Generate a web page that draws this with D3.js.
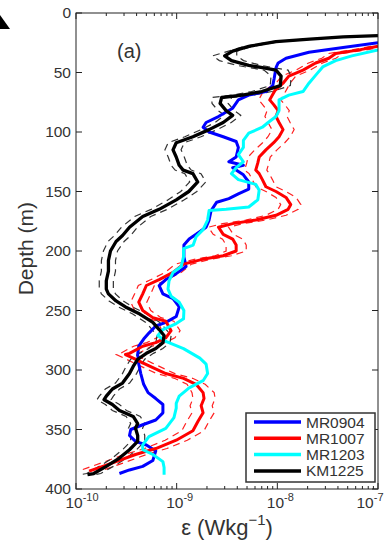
<!DOCTYPE html>
<html>
<head>
<meta charset="utf-8">
<script src="https://cdn.jsdelivr.net/npm/d3@7"></script>
<style>
  body { margin: 0; background: #fff; }
  svg { display: block; font-family: "Liberation Sans", Arial, sans-serif; }
</style>
</head>
<body>
<div id="chart"></div>
<script>
// profiles: [depth (m), epsilon (W/kg)]
const mr0904 = [[25,1e-7],[29,4.5e-8],[33,2.06e-8],[38,1.22e-8],[42,1.02e-8],[46,9.7e-9],[55,9.3e-9],[61,9.0e-9],[66,7.7e-9],[69,5.2e-9],[73,4.1e-9],[80,3.6e-9],[87,2.6e-9],[92,1.96e-9],[96,1.83e-9],[100,2.1e-9],[104,2.9e-9],[108,3.9e-9],[113,4.1e-9],[121,3.9e-9],[125,3.3e-9],[128,4.6e-9],[130,3.6e-9],[136,4.6e-9],[142,5.2e-9],[148,5.2e-9],[152,4.1e-9],[156,3.3e-9],[159,2.5e-9],[166,2.2e-9],[174,2.1e-9],[180,1.96e-9],[186,1.56e-9],[190,1.33e-9],[195,1.18e-9],[205,1.18e-9],[213,1.24e-9],[219,9.9e-10],[224,7.8e-10],[229,6.7e-10],[236,7.3e-10],[240,9.2e-10],[247,1.06e-9],[255,9.9e-10],[260,7.8e-10],[263,6.2e-10],[269,5.3e-10],[274,4.7e-10],[280,4.2e-10],[287,4.1e-10],[295,4.2e-10],[303,4.4e-10],[312,4.7e-10],[319,5.2e-10],[324,6.2e-10],[329,7.3e-10],[336,7.3e-10],[342,6.2e-10],[346,4.6e-10],[350,3.5e-10],[355,3.4e-10],[360,3.9e-10],[363,5.0e-10],[368,6.2e-10],[376,5.8e-10],[381,4.6e-10],[384,3.4e-10],[387,2.7e-10]];

const mr1007 = [[28,1e-7],[31,6.5e-8],[34,3.8e-8],[38,3.25e-8],[42,2.4e-8],[48,1.8e-8],[53,1.3e-8],[59,1.14e-8],[65,9.5e-9],[73,8.4e-9],[77,9.2e-9],[82,1.02e-8],[87,9.7e-9],[92,1.04e-8],[98,1.14e-8],[104,1.04e-8],[109,9.2e-9],[115,7.7e-9],[121,6.6e-9],[126,6.4e-9],[132,6.1e-9],[135,6.6e-9],[140,7.1e-9],[146,7.7e-9],[150,9.7e-9],[155,1.22e-8],[161,1.36e-8],[165,1.28e-8],[170,9.7e-9],[174,6.1e-9],[177,3.6e-9],[180,2.6e-9],[186,2.9e-9],[190,3.6e-9],[195,3.9e-9],[200,3.9e-9],[204,2.9e-9],[207,1.8e-9],[211,1.17e-9],[218,9.2e-10],[224,6.7e-10],[229,5.0e-10],[236,4.6e-10],[243,4.2e-10],[250,4.6e-10],[256,5.8e-10],[259,7.8e-10],[267,8.8e-10],[273,7.8e-10],[277,6.2e-10],[280,4.6e-10],[286,3.4e-10],[287,3.1e-10],[290,3.7e-10],[294,4.6e-10],[298,5.8e-10],[303,7.8e-10],[307,1.17e-9],[312,1.56e-9],[319,1.83e-9],[324,1.87e-9],[330,1.75e-9],[336,1.83e-9],[343,1.63e-9],[351,1.45e-9],[359,9.9e-10],[366,6.2e-10],[371,3.9e-10],[377,2.5e-10],[382,1.7e-10],[385,1.35e-10]];

const mr1203 = [[31,1e-7],[36,5.5e-8],[40,3.8e-8],[45,2.85e-8],[52,2.42e-8],[59,2.06e-8],[66,1.8e-8],[69,1.3e-8],[73,1.04e-8],[82,1.04e-8],[87,9.7e-9],[92,8.1e-9],[96,7.1e-9],[101,5.2e-9],[107,4.6e-9],[113,4.6e-9],[119,4.1e-9],[125,4.6e-9],[130,3.9e-9],[135,3.5e-9],[140,4.1e-9],[144,6.1e-9],[149,6.6e-9],[157,6.4e-9],[163,5.2e-9],[165,3.1e-9],[166,2.1e-9],[174,2.03e-9],[182,1.83e-9],[188,1.56e-9],[195,1.46e-9],[198,1.17e-9],[205,1.17e-9],[213,1.11e-9],[218,9.2e-10],[225,8.4e-10],[232,8.2e-10],[238,8.8e-10],[243,1.06e-9],[250,1.18e-9],[257,1.17e-9],[261,9.9e-10],[266,7.3e-10],[271,6.5e-10],[276,7.8e-10],[282,1.17e-9],[290,1.7e-9],[295,1.96e-9],[303,2.03e-9],[309,1.83e-9],[315,1.33e-9],[322,1.06e-9],[328,9.9e-10],[332,9.9e-10],[340,9.4e-10],[349,7.8e-10],[356,5.3e-10],[363,4.6e-10],[367,4.6e-10],[371,5.8e-10],[377,7.3e-10],[382,7.5e-10],[388,7.5e-10]];

const km1225 = [[19,1e-7],[20,4.5e-8],[22,2.1e-8],[24,9.7e-9],[28,5.2e-9],[32,3.6e-9],[36,3.0e-9],[40,3.5e-9],[44,5.2e-9],[46,7.1e-9],[48,9.7e-9],[53,1.09e-8],[61,1.07e-8],[66,7.0e-9],[69,4.5e-9],[71,2.8e-9],[76,2.7e-9],[82,3.1e-9],[86,3.6e-9],[92,2.9e-9],[98,2.1e-9],[104,1.45e-9],[109,9.9e-10],[115,9.2e-10],[121,9.9e-10],[128,1.06e-9],[132,1.16e-9],[135,1.45e-9],[142,1.62e-9],[150,1.32e-9],[157,9.9e-10],[165,6.7e-10],[171,4.6e-10],[180,3.4e-10],[187,2.9e-10],[192,2.5e-10],[200,2.2e-10],[208,2.1e-10],[217,2.1e-10],[225,2.0e-10],[232,2.0e-10],[236,2.1e-10],[242,2.5e-10],[247,3.1e-10],[253,4.3e-10],[260,5.8e-10],[266,6.7e-10],[271,7.5e-10],[277,7.3e-10],[282,6.2e-10],[286,5.0e-10],[291,4.1e-10],[297,3.7e-10],[303,3.4e-10],[311,2.9e-10],[316,2.3e-10],[322,2.0e-10],[325,1.9e-10],[329,2.3e-10],[334,2.7e-10],[339,3.7e-10],[345,4.1e-10],[349,3.9e-10],[355,4.1e-10],[360,4.1e-10],[367,3.4e-10],[374,2.7e-10],[381,2.0e-10],[387,1.5e-10],[388,1.3e-10]];

// half width of the dashed confidence band, in decades, one per point
const mr1007Band = [0.07,0.07,0.07,0.07,0.07,0.07,0.07,0.07,
  0.11,0.11,0.11,0.11,0.11,0.11,0.11,0.11,0.11,0.11,0.11,0.11,0.11,
  0.10,0.10,0.10,0.10,0.10,0.10,0.10,0.10,0.10,0.10,0.10,0.10,0.10,0.10,0.10,
  0.08,0.08,0.08,0.08,0.08,0.08,0.08,0.08,0.08,0.08,0.08,
  0.09,0.09,0.09,0.09,0.09,0.09,0.09,0.09,0.09,0.09,0.09,0.09,
  0.11,0.11,0.11,0.11,0.11,0.11,0.11,0.11,0.11,0.11,0.11,0.11];
const km1225Band = [0.04,0.04,0.04,0.04,0.04,0.04,
  0.12,0.12,0.12,0.12,0.12,
  0.10,0.10,0.10,0.10,0.10,
  0.08,0.08,0.08,0.08,0.08,0.08,
  0.08,0.08,0.08,0.08,0.08,0.08,0.08,0.08,0.08,0.08,0.08,0.08,0.08,0.08,
  0.07,0.07,0.07,0.07,0.07,0.07,0.07,0.07,0.07,0.07,0.07,0.07,0.07,0.07,0.07,0.07,0.07,
  0.07,0.07,0.07,0.07,0.07,0.07,0.07,0.07,0.07,0.07,0.07,0.07,0.07,0.07,0.07,0.07,0.07];

const seriesNames = ["MR0904", "MR1007", "MR1203", "KM1225"];
const seriesColors = ["#0000ff", "#ff0000", "#00ffff", "#000000"];
const depthTicks = [0, 50, 100, 150, 200, 250, 300, 350, 400];
const epsTicks = [1e-10, 1e-9, 1e-8, 1e-7];
const epsTickExp = ["-10", "-9", "-8", "-7"];

const W = 384, H = 541;
const box = { left: 76, right: 378, top: 13, bottom: 489 };

const svg = d3.select("#chart").append("svg")
    .attr("width", W)
    .attr("height", H);

const x = d3.scaleLog().domain([1e-10, 1e-7]).range([box.left, box.right]);
const y = d3.scaleLinear().domain([0, 400]).range([box.top, box.bottom]);

svg.append("defs").append("clipPath").attr("id", "plot-clip")
    .append("rect")
    .attr("x", box.left).attr("y", box.top)
    .attr("width", box.right - box.left).attr("height", box.bottom - box.top);

// stray arrow corner in the top left
svg.append("polygon")
    .attr("points", "0,15 10,29 0,29")
    .attr("fill", "#000");

const plot = svg.append("g").attr("clip-path", "url(#plot-clip)");

const line = d3.line()
    .x(d => x(d[1]))
    .y(d => y(d[0]));

// dashed bands
const drawBand = (data, band, color) => {
    [-1, 1].forEach(sign => {
        const shifted = data.map((d, i) => [d[0], d[1] * Math.pow(10, sign * band[i])]);
        plot.append("path")
            .attr("d", line(shifted))
            .attr("fill", "none")
            .attr("stroke", color)
            .attr("stroke-width", 1.2)
            .attr("stroke-dasharray", "7,5");
    });
};
drawBand(mr1007, mr1007Band, "#ff2020");
drawBand(km1225, km1225Band, "#333");

[mr0904, mr1007, mr1203, km1225].forEach((data, i) => {
    plot.append("path")
        .attr("d", line(data))
        .attr("fill", "none")
        .attr("stroke", seriesColors[i])
        .attr("stroke-width", i === 3 ? 3.3 : 3)
        .attr("stroke-linejoin", "round");
});

// frame
svg.append("rect")
    .attr("x", box.left).attr("y", box.top)
    .attr("width", box.right - box.left).attr("height", box.bottom - box.top)
    .attr("fill", "none")
    .attr("stroke", "#222")
    .attr("stroke-width", 1);

// log ticks top + bottom
const minor = [];
for (let e = -10; e < -7; e++) {
    for (let m = 2; m <= 9; m++) minor.push(m * Math.pow(10, e));
}
const tickG = svg.append("g").attr("stroke", "#222").attr("stroke-width", 1);
minor.forEach(v => {
    tickG.append("line").attr("x1", x(v)).attr("x2", x(v)).attr("y1", box.bottom).attr("y2", box.bottom - 3);
    tickG.append("line").attr("x1", x(v)).attr("x2", x(v)).attr("y1", box.top).attr("y2", box.top + 3);
});
epsTicks.forEach(v => {
    tickG.append("line").attr("x1", x(v)).attr("x2", x(v)).attr("y1", box.bottom).attr("y2", box.bottom - 6);
    tickG.append("line").attr("x1", x(v)).attr("x2", x(v)).attr("y1", box.top).attr("y2", box.top + 6);
});
depthTicks.forEach(v => {
    tickG.append("line").attr("x1", box.left).attr("x2", box.left + 6).attr("y1", y(v)).attr("y2", y(v));
    tickG.append("line").attr("x1", box.right).attr("x2", box.right - 6).attr("y1", y(v)).attr("y2", y(v));
});

// tick labels
svg.append("g").selectAll("text")
    .data(depthTicks)
    .join("text")
    .attr("x", box.left - 5)
    .attr("y", d => y(d) + 5)
    .attr("text-anchor", "end")
    .attr("font-size", 15.5)
    .attr("fill", "#333")
    .text(d => d);

epsTicks.forEach((v, i) => {
    const t = svg.append("text")
        .attr("x", i === 0 ? x(v) + 6 : (i === 3 ? x(v) - 8 : x(v) + 3))
        .attr("y", 508)
        .attr("text-anchor", "middle")
        .attr("font-size", 15.5)
        .attr("fill", "#333");
    t.append("tspan").text("10");
    t.append("tspan").attr("dy", -7).attr("font-size", 11).text(epsTickExp[i]);
});

// axis titles
const xt = svg.append("text")
    .attr("x", 227).attr("y", 535)
    .attr("text-anchor", "middle")
    .attr("font-size", 22)
    .attr("fill", "#333");
xt.append("tspan").text("ε (Wkg");
xt.append("tspan").attr("dy", -10).attr("font-size", 15).text("−1");
xt.append("tspan").attr("dy", 10).text(")");

svg.append("text")
    .attr("transform", `translate(33, ${y(198)}) rotate(-90)`)
    .attr("text-anchor", "middle")
    .attr("font-size", 21)
    .attr("fill", "#333")
    .text("Depth (m)");

svg.append("text")
    .attr("x", 117).attr("y", 58)
    .attr("font-size", 20)
    .attr("fill", "#333")
    .text("(a)");

// legend
const legend = svg.append("g");
legend.append("rect")
    .attr("x", 246).attr("y", 413)
    .attr("width", 129).attr("height", 69)
    .attr("fill", "#fff")
    .attr("stroke", "#333")
    .attr("stroke-width", 1.5);
seriesNames.forEach((name, i) => {
    const ly = 422 + i * 16.3;
    legend.append("line")
        .attr("x1", 254).attr("x2", 301)
        .attr("y1", ly).attr("y2", ly)
        .attr("stroke", seriesColors[i])
        .attr("stroke-width", 3.5);
    legend.append("text")
        .attr("x", 306).attr("y", ly + 5.5)
        .attr("font-size", 15.5)
        .attr("fill", "#333")
        .text(name);
});
</script>
</body>
</html>
